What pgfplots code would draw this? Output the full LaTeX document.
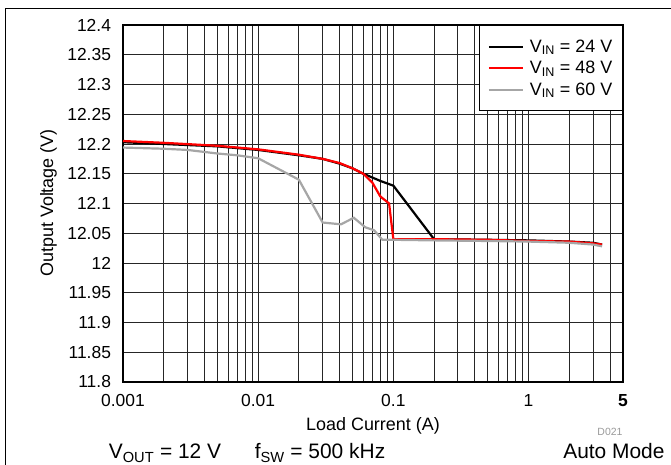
\documentclass[border=0pt]{standalone}
\usepackage{pgfplots}
\pgfplotsset{compat=1.18}
\usepackage{fontspec}
\setmainfont{Liberation Sans}
\begin{document}
\begin{tikzpicture}[x=1bp,y=1bp]
\path[use as bounding box] (0,0) rectangle (671,465);
\draw[line width=1bp] (5,0) -- (5,456) -- (671,456);
\begin{axis}[
  at={(123bp,83bp)}, anchor=south west,
  scale only axis, width=500bp, height=357bp,
  xmode=log, xmin=0.001, xmax=5, ymin=11.8, ymax=12.4,
  xtick={0.001,0.01,0.1,1,5},
  xticklabels={0.001,0.01,0.1,1,\textbf{5}},
  minor xtick={0.002,0.003,0.004,0.005,0.006,0.007,0.008,0.009,0.02,0.03,0.04,0.05,0.06,0.07,0.08,0.09,0.2,0.3,0.4,0.5,0.6,0.7,0.8,0.9,2,3,4},
  ytick={11.8,11.85,11.9,11.95,12,12.05,12.1,12.15,12.2,12.25,12.3,12.35,12.4},
  yticklabels={11.8,11.85,11.9,11.95,12,12.05,12.1,12.15,12.2,12.25,12.3,12.35,12.4},
  grid=both,
  major grid style={black!85, line width=0.8bp},
  minor grid style={black!85, line width=0.8bp},
  major tick length=0pt, minor tick length=0pt,
  axis line style={line width=2bp},
  tick label style={font=\fontsize{17.5}{18}\selectfont},
  xticklabel style={yshift=-9bp},
  yticklabel style={xshift=-8.5bp},
  legend style={at={(1,1)}, anchor=north east, draw=black, line width=1.5bp,
    font=\fontsize{18}{18}\selectfont, inner xsep=8bp, inner ysep=12bp,
    row sep=3.5bp,
    /tikz/every odd column/.append style={column sep=4bp}},
  legend cell align=left,
  legend image code/.code={\draw[#1] (0bp,0bp) -- (34bp,0bp);},
]
\addplot[black, line width=2.2bp] coordinates {
(0.001,12.203) (0.002,12.2) (0.005,12.196) (0.01,12.19) (0.02,12.181) (0.03,12.175) (0.04,12.167) (0.05,12.159) (0.06,12.15) (0.08,12.138) (0.1,12.13) (0.2,12.04) (0.5,12.039) (1,12.038) (2,12.036) (3,12.034) (3.5,12.031)
};
\addlegendentry{V\textsubscript{IN} = 24 V}
\addplot[red, line width=2.2bp] coordinates {
(0.001,12.205) (0.002,12.202) (0.005,12.197) (0.01,12.191) (0.02,12.182) (0.03,12.175) (0.04,12.168) (0.05,12.159) (0.06,12.15) (0.07,12.135) (0.08,12.112) (0.093,12.1) (0.1,12.04) (0.2,12.04) (0.5,12.039) (1,12.037) (2,12.036) (3,12.033) (3.5,12.031)
};
\addlegendentry{V\textsubscript{IN} = 48 V}
\addplot[black!35, line width=2.2bp] coordinates {
(0.001,12.194) (0.002,12.192) (0.003,12.19) (0.005,12.184) (0.007,12.181) (0.01,12.176) (0.02,12.14) (0.03,12.068) (0.041,12.065) (0.051,12.076) (0.062,12.06) (0.072,12.055) (0.083,12.039) (0.1,12.039) (0.2,12.038) (0.5,12.037) (1,12.036) (2,12.034) (3,12.031) (3.5,12.028)
};
\addlegendentry{V\textsubscript{IN} = 60 V}
\end{axis}
\node[rotate=90, anchor=base, font=\fontsize{18}{18}\selectfont] at (53,262) {Output Voltage (V)};
\node[anchor=base, font=\fontsize{18}{18}\selectfont] at (373,34) {Load Current (A)};
\node[anchor=base east, font=\fontsize{10.5}{11}\selectfont, text=black!40] at (626,29.5) {D021};
\node[anchor=base, font=\fontsize{21}{22}\selectfont] at (165,6) {V\textsubscript{OUT} = 12 V};
\node[anchor=base, font=\fontsize{21}{22}\selectfont] at (320,6) {f\textsubscript{SW} = 500 kHz};
\node[anchor=base east, font=\fontsize{21}{22}\selectfont] at (668,6) {Auto Mode};
\end{tikzpicture}
\end{document}
